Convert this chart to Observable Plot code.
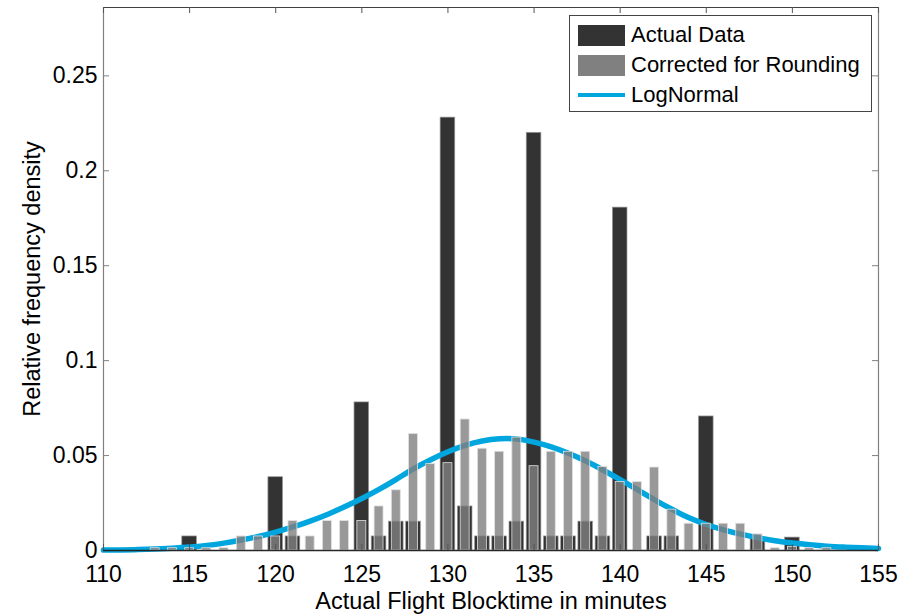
<!DOCTYPE html>
<html>
<head>
<meta charset="utf-8">
<script src="https://cdn.jsdelivr.net/npm/d3@7"></script>
<script src="https://cdn.jsdelivr.net/npm/@observablehq/plot@0.6"></script>
<style>
  html, body { margin: 0; padding: 0; background: #fff; }
  #wrap { position: relative; width: 915px; height: 616px; font-family: "Liberation Sans", Arial, Helvetica, sans-serif; }
  #legend { position: absolute; left: 569px; top: 15px; width: 303px; height: 97px; border: 1px solid #444; background: #fff; box-sizing: border-box; }
  .row { position: absolute; left: 8px; height: 24px; display: flex; align-items: center; font-size: 22px; color: #000; white-space: nowrap; }
  .sw { width: 47px; height: 21px; margin-right: 6px; }
  .ln { width: 47px; height: 4px; margin-right: 6px; background: #00a6dd; }
</style>
</head>
<body>
<div id="wrap"></div>
<script>
// ---- data ----
const actualX = [115, 120, 121, 125, 126, 127, 128, 130, 131, 132, 133, 134, 135, 136, 137, 138, 139, 140, 142, 143, 145, 148, 150];
const actualY = [0.0074, 0.0386, 0.0074, 0.078, 0.0074, 0.0152, 0.0152, 0.228, 0.0232, 0.0074, 0.0074, 0.0152, 0.220, 0.0074, 0.0074, 0.0152, 0.0074, 0.1806, 0.0074, 0.0074, 0.0706, 0.006, 0.0068];

const correctedX = [113, 114, 115, 116, 117, 118, 119, 120, 121, 122, 123, 124, 125, 126, 127, 128, 129, 130, 131, 132, 133, 134, 135, 136, 137, 138, 139, 140, 141, 142, 143, 144, 145, 146, 147, 148, 149, 150, 151, 152];
const correctedY = [0.0012, 0.0012, 0.0012, 0.0012, 0.0012, 0.0074, 0.0074, 0.0074, 0.0155, 0.0074, 0.0155, 0.0155, 0.0155, 0.0232, 0.0317, 0.0613, 0.0455, 0.046, 0.069, 0.0536, 0.052, 0.0595, 0.0444, 0.052, 0.052, 0.052, 0.044, 0.0361, 0.036, 0.0437, 0.0215, 0.0141, 0.0141, 0.0141, 0.0141, 0.0085, 0.0012, 0.0018, 0.0012, 0.0012];

const fitX = [110, 111, 112, 113, 114, 115, 116, 117, 118, 119, 120, 121, 122, 123, 124, 125, 126, 127, 128, 129, 130, 131, 132, 133, 134, 135, 136, 137, 138, 139, 140, 141, 142, 143, 144, 145, 146, 147, 148, 149, 150, 151, 152, 153, 154, 155];
const fitY = [0.0002, 0.0003, 0.0005, 0.0008, 0.0012, 0.0018, 0.0027, 0.0039, 0.0055, 0.0074, 0.0097, 0.0124, 0.0155, 0.019, 0.023, 0.0274, 0.0322, 0.0375, 0.043, 0.0478, 0.052, 0.0554, 0.0577, 0.0588, 0.0587, 0.0571, 0.0546, 0.0512, 0.0471, 0.0424, 0.0373, 0.032, 0.0267, 0.0217, 0.0172, 0.0137, 0.0109, 0.0086, 0.0067, 0.0051, 0.0039, 0.003, 0.0023, 0.0018, 0.0014, 0.0011];

const xTicks = [110, 115, 120, 125, 130, 135, 140, 145, 150, 155];
const yTicks = [0, 0.05, 0.1, 0.15, 0.2, 0.25];
const xTitle = "Actual Flight Blocktime in minutes";
const yTitle = "Relative frequency density";
const seriesNames = ["Actual Data", "Corrected for Rounding", "LogNormal"];

// ---- build tables ----
const actual = actualX.map((x, i) => ({x, y: actualY[i]}));
const corrected = correctedX.map((x, i) => ({x, y: correctedY[i]}));
const fit = fitX.map((x, i) => ({x, y: fitY[i]}));

const W = 915, H = 616;
const mL = 103, mR = 37, mT = 7, mB = 66;
const pw = W - mL - mR, ph = H - mT - mB;
const tick = 6;
const font = "Liberation Sans, Arial, Helvetica, sans-serif";

const chart = Plot.plot({
  width: W, height: H,
  marginLeft: mL, marginRight: mR, marginTop: mT, marginBottom: mB,
  style: {fontFamily: font, background: "#fff", color: "#000"},
  x: {domain: [110, 155]},
  y: {domain: [0, 0.286]},
  marks: [
    // dark bars
    Plot.rectY(actual, {x1: d => d.x - 0.425, x2: d => d.x + 0.425, y: "y", fill: "#333333", stroke: "#9a9a9a", strokeWidth: 0.7}),
    // fit curve
    Plot.line(fit, {x: "x", y: "y", curve: "natural", stroke: "#00a6dd", strokeWidth: 5.5}),
    // corrected bars (semi-transparent, on top)
    Plot.rectY(corrected, {x1: d => d.x - 0.26, x2: d => d.x + 0.26, y: "y", fill: "#808080", fillOpacity: 0.8, stroke: "#e0e0e0", strokeWidth: 0.8}),
    // frame
    Plot.ruleX([110], {stroke: "#808080", strokeWidth: 1.2}),
    Plot.ruleX([155], {stroke: "#808080", strokeWidth: 1.2}),
    Plot.ruleY([0.286], {stroke: "#404040", strokeWidth: 1.2}),
    // inward ticks
    Plot.ruleX(xTicks, {insetTop: ph - tick, stroke: "#555"}),
    Plot.ruleX(xTicks, {insetBottom: ph - tick, stroke: "#555"}),
    Plot.ruleY(yTicks, {insetRight: pw - tick, stroke: "#808080"}),
    Plot.ruleY(yTicks, {insetLeft: pw - tick, stroke: "#808080"}),
    Plot.ruleY([0], {stroke: "#262626", strokeWidth: 1.3}),
    // tick labels
    Plot.axisX(xTicks, {tickSize: 0, tickPadding: 15, fontSize: 23, label: null, tickFormat: d => String(d)}),
    Plot.axisY(yTicks, {tickSize: 0, tickPadding: 6, fontSize: 23, label: null, tickFormat: d => String(+d.toFixed(2))}),
    // axis titles
    Plot.text([xTitle], {frameAnchor: "bottom", lineAnchor: "middle", textAnchor: "middle", dy: 51, fontSize: 23.5, text: d => d, fill: "#000"}),
    Plot.text([yTitle], {frameAnchor: "left", lineAnchor: "middle", textAnchor: "middle", dx: -71, rotate: -90, fontSize: 23.5, text: d => d, fill: "#000"})
  ]
});

const wrap = document.getElementById("wrap");
wrap.appendChild(chart);

const legend = document.createElement("div");
legend.id = "legend";
const rows = [
  {name: seriesNames[0], type: "sw", color: "#333333", top: 7},
  {name: seriesNames[1], type: "sw", color: "#808080", top: 37},
  {name: seriesNames[2], type: "ln", color: "#00a6dd", top: 67}
];
rows.forEach(r => {
  const row = document.createElement("div");
  row.className = "row";
  row.style.top = r.top + "px";
  const s = document.createElement("div");
  s.className = r.type;
  s.style.background = r.color;
  row.appendChild(s);
  const t = document.createElement("span");
  t.textContent = r.name;
  row.appendChild(t);
  legend.appendChild(row);
});
wrap.appendChild(legend);
</script>
</body>
</html>
